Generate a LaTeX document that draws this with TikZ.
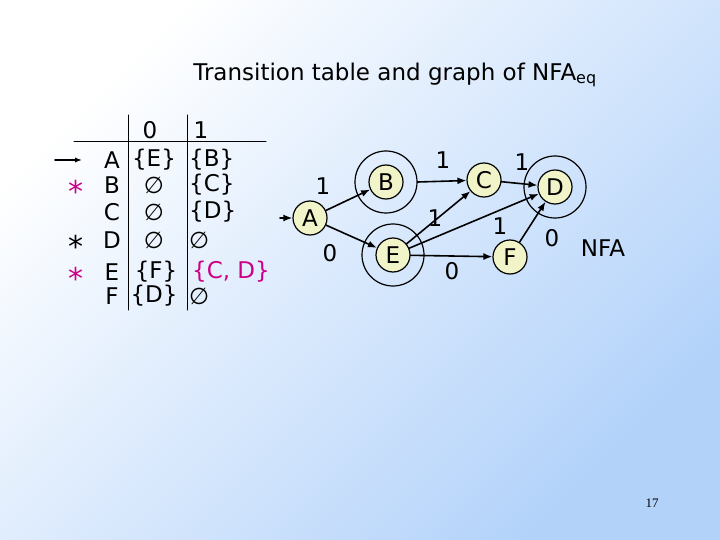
\documentclass[tikz,border=0pt]{standalone}
\usepackage{fontspec}
\setmainfont{DejaVu Sans}
\newfontfamily\numfont{Liberation Serif}
\usetikzlibrary{arrows.meta}
\definecolor{pink}{RGB}{204,0,136}
\definecolor{statefill}{RGB}{240,244,200}
\definecolor{bgblue}{RGB}{178,210,250}
\newcommand{\nil}{\char"2205}
\tikzset{
  state/.style={circle,draw,line width=1.2pt,fill=statefill,inner sep=0pt,minimum size=34pt,font=\fontsize{23}{23}\selectfont},
  ring/.style={circle,draw,line width=1.2pt,minimum size=62pt},
  edge/.style={line width=1.6pt,-{Latex[length=9pt,width=7pt]}},
  lbl/.style={font=\fontsize{23}{23}\selectfont},
  cell/.style={font=\fontsize{23}{23}\selectfont,inner sep=0pt}
}
\begin{document}
\begin{tikzpicture}[x=1pt,y=-1pt,line cap=round,line join=round]
\shade[top color=white,bottom color=bgblue,shading angle=45] (0,0) rectangle (720,540);
\useasboundingbox (0,0) rectangle (720,540);
% title
\node[font=\fontsize{23}{23}\selectfont] (title) at (395,75) {Transition table and graph of NFA\textsubscript{\fontsize{16}{16}\selectfont eq}};
% table lines
\draw[line width=1pt] (128,115) -- (128,310);
\draw[line width=1pt] (187,115) -- (187,310);
\draw[line width=1pt] (74,142) -- (266,142);
\node[cell] (h0) at (150,130) {0};
\node[cell] (h1) at (201,130) {1};
\foreach \s/\a/\b/\y in {A/\{E\}/\{B\}/160, B/\nil/\{C\}/185, C/\nil/\{D\}/212, D/\nil/\nil/240, F/\{D\}/\nil/296}{
  \node[cell] (r\s) at (112,\y) {\s};
  \node[cell] (c0\s) at (154,\y) {\a};
  \node[cell,anchor=west] (c1\s) at (189,\y) {\b};
}
\node[cell] (rE) at (112,272) {E};
\node[cell] (c0E) at (156,272) {\{F\}};
\node[cell,anchor=west,text=pink] (c1E) at (192,272) {\{C, D\}};
\node[cell,text=pink,font=\fontsize{30}{30}\selectfont] (starB) at (76,191) {*};
\node[cell,font=\fontsize{30}{30}\selectfont] (starD) at (76,246) {*};
\node[cell,text=pink,font=\fontsize{30}{30}\selectfont] (starE) at (76,278) {*};
\coordinate (tin) at (55,160);
\draw[edge,-{Latex[length=7pt]}] (tin) -- (82,160);
% graph
\node[state] (A) at (310,218) {A};
\node[state] (B) at (386,182) {B};
\node[ring] (Bo) at (386,182) {};
\node[state] (C) at (484,180) {C};
\node[state] (D) at (555,187) {D};
\node[ring] (Do) at (555,187) {};
\node[state] (E) at (393,255) {E};
\node[ring] (Eo) at (393,255) {};
\node[state] (F) at (510,257) {F};
\coordinate (ain) at (280,218);
\draw[edge] (ain) -- (A);
\draw[edge] (A) -- (B);
\draw[edge] (A) -- (E);
\draw[edge] (Bo.east) -- (C);
\draw[edge] (C) -- (D);
\draw[edge] (E) -- (C);
\draw[edge] (E) -- (D);
\draw[edge] (E) -- (F);
\draw[edge] (F) -- (D);
\node[lbl] (l1) at (323,186) {1};
\node[lbl] (l2) at (330,253) {0};
\node[lbl] (l3) at (443,160) {1};
\node[lbl] (l4) at (522,162) {1};
\node[lbl] (l5) at (435,218) {1};
\node[lbl] (l6) at (500,226) {1};
\node[lbl] (l7) at (452,271) {0};
\node[lbl] (l8) at (552,238) {0};
\node[lbl] (nfa) at (603,248) {NFA};
\node[font=\numfont\fontsize{13}{13}\selectfont] (page) at (652,503) {17};
\end{tikzpicture}
\end{document}
